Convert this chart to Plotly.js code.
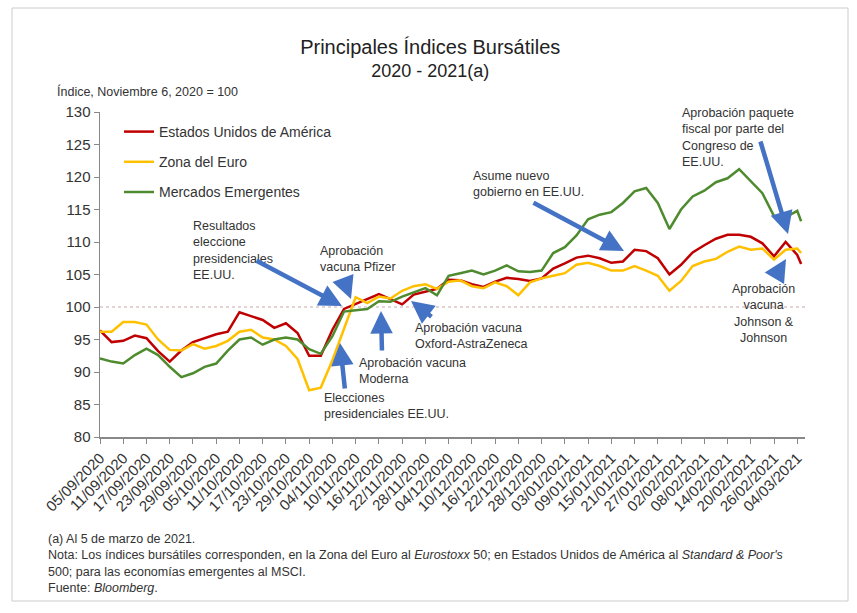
<!DOCTYPE html>
<html>
<head>
<meta charset="utf-8">
<script src="https://cdn.plot.ly/plotly-3.0.1.min.js"></script>
<style>html,body{margin:0;padding:0;background:#fff;}#chart{width:857px;height:613px;}</style>
</head>
<body>
<div id="chart"></div>
<script>
const dates = ["2020-09-05","2020-09-08","2020-09-11","2020-09-14","2020-09-17","2020-09-20","2020-09-23","2020-09-26","2020-09-29","2020-10-02",
"2020-10-05","2020-10-08","2020-10-11","2020-10-14","2020-10-17","2020-10-20","2020-10-23","2020-10-26","2020-10-29","2020-11-01",
"2020-11-04","2020-11-07","2020-11-10","2020-11-13","2020-11-16","2020-11-19","2020-11-22","2020-11-25","2020-11-28","2020-12-01",
"2020-12-04","2020-12-07","2020-12-10","2020-12-13","2020-12-16","2020-12-19","2020-12-22","2020-12-25","2020-12-28","2020-12-31",
"2021-01-03","2021-01-06","2021-01-09","2021-01-12","2021-01-15","2021-01-18","2021-01-21","2021-01-24","2021-01-27","2021-01-30",
"2021-02-02","2021-02-05","2021-02-08","2021-02-11","2021-02-14","2021-02-17","2021-02-20","2021-02-23","2021-02-26","2021-03-01",
"2021-03-04","2021-03-05"];

const usa = [96.4,94.6,94.8,95.6,95.2,93.2,91.6,93.3,94.6,95.2,
95.8,96.2,99.2,98.6,98.0,96.8,97.5,96.0,92.5,92.5,
96.5,99.7,100.5,101.3,102.0,101.2,100.4,101.9,102.4,102.8,
104.2,104.1,103.5,103.1,103.9,104.5,104.3,104.0,104.4,105.9,
106.7,107.6,107.9,107.5,106.8,107.0,108.8,108.6,107.5,105.0,
106.5,108.4,109.5,110.5,111.1,111.1,110.8,109.8,107.8,110.0,
108.0,106.6];

const euro = [96.2,96.2,97.7,97.7,97.3,95.0,93.4,93.3,94.3,93.6,
94.0,94.8,96.2,96.5,95.3,95.0,94.0,92.0,87.2,87.6,
91.8,96.8,101.5,100.6,101.6,101.3,102.5,103.2,103.5,102.8,
103.9,104.1,103.2,102.9,103.8,103.2,101.8,103.8,104.4,104.8,
105.2,106.5,106.8,106.3,105.6,105.6,106.3,105.6,104.8,102.5,
104.0,106.3,107.0,107.4,108.5,109.3,108.8,109.0,107.3,108.8,
109.0,108.3];

const emerg = [92.1,91.6,91.3,92.6,93.6,92.6,90.8,89.2,89.8,90.8,
91.3,93.3,95.0,95.3,94.2,95.0,95.3,95.0,93.5,92.8,
95.5,99.3,99.5,99.7,100.9,100.8,101.6,102.3,102.9,101.8,
104.8,105.2,105.6,105.0,105.6,106.4,105.5,105.4,105.6,108.3,
109.2,111.0,113.5,114.2,114.6,116.0,117.8,118.3,116.0,112.0,
115.0,117.0,117.9,119.2,119.8,121.2,119.4,117.5,114.0,113.8,
114.8,113.2];

const seriesNames = ["Estados Unidos de América","Zona del Euro","Mercados Emergentes"];
const yTicks = [80,85,90,95,100,105,110,115,120,125,130];

const FONT = "Liberation Sans, Arial, sans-serif";
const BLUE = "#4472C4";
const TXT = "#333333";

const traces = [
  {x: dates, y: usa, name: seriesNames[0], legendgroup: "a", mode: "lines", line: {color: "#C00000", width: 2.5}},
  {x: dates, y: euro, name: seriesNames[1], legendgroup: "b", mode: "lines", line: {color: "#FFC000", width: 2.5}},
  {x: dates, y: emerg, name: seriesNames[2], legendgroup: "c", mode: "lines", line: {color: "#4E8B2E", width: 2.5}}
];

// plot area: left 100, right 805, top 112, bottom 437
const L = 100, R = 805, T = 112, B = 437;
const px = x => (x - L) / (R - L);
const py = y => (B - y) / (B - T);

function txt(text, x, y, align, anchor) {
  return {text: text, xref: "paper", yref: "paper", x: px(x), y: py(y), xanchor: anchor || "left", yanchor: "top",
    align: align || "left", showarrow: false, font: {family: FONT, size: 12.5, color: TXT}};
}
function arr(tipX, tipY, tailX, tailY) {
  return {text: "", xref: "paper", yref: "paper", x: px(tipX), y: py(tipY), ax: tailX - tipX, ay: tailY - tipY,
    showarrow: true, arrowhead: 2, arrowsize: 1, arrowwidth: 4.5, arrowcolor: BLUE, standoff: 0};
}

const annotations = [
  {text: "Índice, Noviembre 6, 2020 = 100", xref: "paper", yref: "paper", x: px(55), y: py(91), xanchor: "left", yanchor: "middle",
   showarrow: false, font: {family: FONT, size: 12.5, color: TXT}},
  txt("Resultados<br>eleccione<br>presidenciales<br>EE.UU.", 191, 217),
  txt("Aprobación<br>vacuna Pfizer", 318, 242),
  txt("Elecciones<br>presidenciales EE.UU.", 322, 389),
  txt("Aprobación vacuna<br>Moderna", 357, 354),
  txt("Aprobación vacuna<br>Oxford-AstraZeneca", 413, 319),
  txt("Asume nuevo<br>gobierno en EE.UU.", 471, 167),
  txt("Aprobación paquete<br>fiscal por parte del<br>Congreso de<br>EE.UU.", 680, 104),
  txt("Aprobación<br>vacuna<br>Johnson &<br>Johnson", 763, 280, "center", "center"),
  arr(342, 306, 255, 260),
  arr(351, 299, 343, 278),
  arr(340, 343, 345, 390),
  arr(381, 311, 382, 352),
  arr(411, 301, 433, 318),
  arr(624, 251, 532, 202),
  arr(788, 234, 760, 140),
  arr(786, 259, 774, 279),
  {text: "(a) Al 5 de marzo de 2021.<br>Nota: Los índices bursátiles corresponden, en la Zona del Euro al <i>Eurostoxx</i> 50; en Estados Unidos de América al <i>Standard & Poor's</i><br>500; para las economías emergentes al MSCI.<br>Fuente: <i>Bloomberg</i>.",
   xref: "paper", yref: "paper", x: px(46), y: py(530), xanchor: "left", yanchor: "top", align: "left",
   showarrow: false, font: {family: FONT, size: 12.5, color: TXT}}
];

const layout = {
  width: 857, height: 613,
  margin: {l: L, r: 857 - R, t: T, b: 613 - B},
  paper_bgcolor: "#fff", plot_bgcolor: "#fff",
  font: {family: FONT, color: TXT},
  title: {text: "<span style=\"font-size:20px\">Principales Índices Bursátiles</span><br>2020 - 2021(a)", x: 0.502, xanchor: "center", y: 0.912, yanchor: "top",
    font: {family: FONT, size: 18, color: "#222"}},
  showlegend: true,
  legend: {x: px(119), y: py(116), xanchor: "left", yanchor: "top", bgcolor: "rgba(0,0,0,0)",
    font: {family: FONT, size: 14, color: TXT}, tracegroupgap: 9, itemwidth: 30},
  xaxis: {type: "date", range: ["2020-09-05", "2021-03-06"], tick0: "2020-09-05", dtick: 6 * 86400000,
    tickformat: "%d/%m/%Y", tickangle: -45, ticks: "outside", ticklen: 5, tickcolor: "#888",
    showline: true, linecolor: "#888", linewidth: 1.5, showgrid: false, zeroline: false,
    tickfont: {family: FONT, size: 15, color: TXT}},
  yaxis: {range: [80, 130], tickvals: yTicks, ticks: "outside", ticklen: 5, tickcolor: "#888",
    showline: true, linecolor: "#888", linewidth: 1.5, showgrid: false, zeroline: false,
    tickfont: {family: FONT, size: 15, color: TXT}},
  shapes: [
    {type: "line", xref: "paper", yref: "y", x0: 0, x1: 1, y0: 100, y1: 100, line: {color: "#C9A9A9", width: 1, dash: "dot"}, layer: "below"},
    {type: "rect", xref: "paper", yref: "paper", x0: px(12), x1: px(848), y0: py(8), y1: py(601), line: {color: "#CCCCCC", width: 1}}
  ],
  annotations: annotations
};

Plotly.newPlot("chart", traces, layout, {displayModeBar: false, staticPlot: true});
</script>
</body>
</html>
